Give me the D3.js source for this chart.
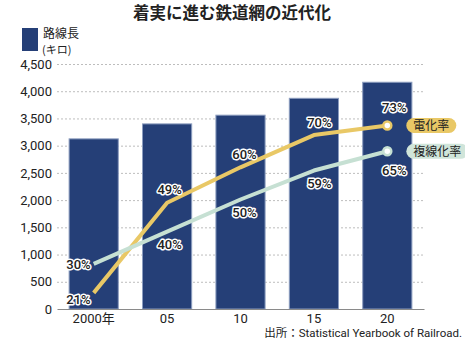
<!DOCTYPE html>
<html>
<head>
<meta charset="utf-8">
<script src="https://cdn.jsdelivr.net/npm/d3@7"></script>
<style>
  body { margin: 0; background: #fff; }
  svg text { font-family: Roboto, "Noto Sans CJK JP", sans-serif; fill: #222; }
  .jp { font-family: "Noto Sans CJK JP", sans-serif; }
</style>
</head>
<body>
<div id="chart"></div>
<script>
// data
const years = ["2000年", "05", "10", "15", "20"];
const routeLength = [3125, 3400, 3560, 3870, 4165];
const electrified = [21, 49, 60, 70, 73];
const doubleTrack = [30, 40, 50, 59, 65];
const yTicks = [0, 500, 1000, 1500, 2000, 2500, 3000, 3500, 4000, 4500];

// dimensions
const W = 465, H = 341;
const margin = {top: 64, right: 41, bottom: 32, left: 57};
const width = W - margin.left - margin.right;
const height = H - margin.top - margin.bottom;

const root = d3.select("#chart").append("svg")
    .attr("width", W)
    .attr("height", H);

const svg = root.append("g")
    .attr("transform", "translate(" + margin.left + "," + margin.top + ")");

// scales
const x = d3.scaleBand()
    .domain(years)
    .range([0, width])
    .paddingInner(0.33)
    .paddingOuter(0.165);

const y = d3.scaleLinear()
    .domain([0, 4500])
    .range([height, 0]);

// percent scale for the two lines
const yPct = d3.scaleLinear()
    .domain([0, 100])
    .range([height + 51.5, height - 270.5]);

// gridlines + y axis
const yAxis = svg.append("g")
    .call(d3.axisLeft(y).tickValues(yTicks).tickSize(-width).tickPadding(5)
        .tickFormat(d3.format(",")));
yAxis.select(".domain").remove();
yAxis.selectAll(".tick line")
    .attr("stroke", "#bdbdbd")
    .attr("stroke-dasharray", "2,2")
    .filter(d => d === 0).remove();
yAxis.selectAll("text")
    .style("font-size", "13px")
    .style("font-family", "Roboto, sans-serif")
    .attr("fill", "#222");

// bars
svg.append("g")
    .selectAll("rect")
    .data(years)
    .join("rect")
    .attr("x", d => x(d))
    .attr("y", (d, i) => y(routeLength[i]))
    .attr("width", x.bandwidth())
    .attr("height", (d, i) => height - y(routeLength[i]))
    .attr("fill", "#253f77")
    .attr("stroke", "#8c9dbf")
    .attr("stroke-width", 1);

// x axis
const xAxis = svg.append("g")
    .attr("transform", "translate(0," + height + ")")
    .call(d3.axisBottom(x).tickSize(0).tickPadding(5));
xAxis.select(".domain").attr("stroke", "#8a8a8a").attr("stroke-width", 1.2);
xAxis.selectAll("text")
    .style("font-size", "13px")
    .style("font-family", "Roboto, 'Noto Sans CJK JP', sans-serif")
    .attr("fill", "#222");

// lines
const series = [
    {name: "電化率", values: electrified, color: "#e9c866", pill: "#e9c866", below: false},
    {name: "複線化率", values: doubleTrack, color: "#c6e0d3", pill: "#d0e5da", below: true}
];

const line = d3.line()
    .x((d, i) => x(years[i]) + x.bandwidth() / 2)
    .y(d => yPct(d));

series.forEach(s => {
    svg.append("path")
        .datum(s.values)
        .attr("fill", "none")
        .attr("stroke", s.color)
        .attr("stroke-width", 4)
        .attr("stroke-linejoin", "round")
        .attr("d", line);
});

// end markers and name pills
series.forEach(s => {
    const last = s.values.length - 1;
    const cx = x(years[last]) + x.bandwidth() / 2;
    const cy = yPct(s.values[last]);
    svg.append("circle")
        .attr("cx", cx)
        .attr("cy", cy)
        .attr("r", 4)
        .attr("fill", "#fff")
        .attr("stroke", s.color)
        .attr("stroke-width", 2.5);

    const g = svg.append("g").attr("transform", "translate(" + (cx + 19) + "," + cy + ")");
    const rect = g.append("rect").attr("fill", s.pill);
    const t = g.append("text")
        .attr("class", "jp")
        .attr("x", 7)
        .attr("dy", "0.36em")
        .style("font-size", "12px")
        .text(s.name);
    const tw = t.node().getComputedTextLength();
    rect.attr("x", 0)
        .attr("y", -7.5)
        .attr("width", tw + 14)
        .attr("height", 15)
        .attr("rx", 7.5);
});

// percent labels
series.forEach(s => {
    svg.append("g")
        .selectAll("text")
        .data(s.values)
        .join("text")
        .attr("x", (d, i) => x(years[i]) + x.bandwidth() / 2 + (i === 0 ? -3 : 1 + i * 1.5))
        .attr("y", (d, i) => {
            const py = yPct(d);
            if (i === 0) return py + (s.below ? 0 : 6);
            if (i === s.values.length - 1) return s.below ? py + 19 : py - 18;
            return s.below ? py + 13 : py - 13;
        })
        .attr("dy", "0.36em")
        .attr("text-anchor", (d, i) => i === 0 ? "end" : "middle")
        .style("font-size", "13px")
        .style("font-weight", 500)
        .attr("stroke", "#fff")
        .attr("stroke-width", 3)
        .attr("stroke-linejoin", "round")
        .attr("paint-order", "stroke")
        .text(d => d + "%");
});

// title
root.append("text")
    .attr("class", "jp")
    .attr("x", 232)
    .attr("y", 19)
    .attr("text-anchor", "middle")
    .style("font-size", "16.5px")
    .style("font-weight", "bold")
    .text("着実に進む鉄道網の近代化");

// legend for bars
root.append("rect")
    .attr("x", 22)
    .attr("y", 28)
    .attr("width", 16)
    .attr("height", 23)
    .attr("fill", "#253f77");
root.append("text")
    .attr("class", "jp")
    .attr("x", 43)
    .attr("y", 38)
    .style("font-size", "12px")
    .text("路線長");
root.append("text")
    .attr("class", "jp")
    .attr("x", 42)
    .attr("y", 54)
    .style("font-size", "11px")
    .text("(キロ)");

// source
root.append("text")
    .attr("x", 462)
    .attr("y", 337)
    .attr("text-anchor", "end")
    .style("font-size", "11.5px")
    .text("出所：Statistical Yearbook of Railroad.");
</script>
</body>
</html>
